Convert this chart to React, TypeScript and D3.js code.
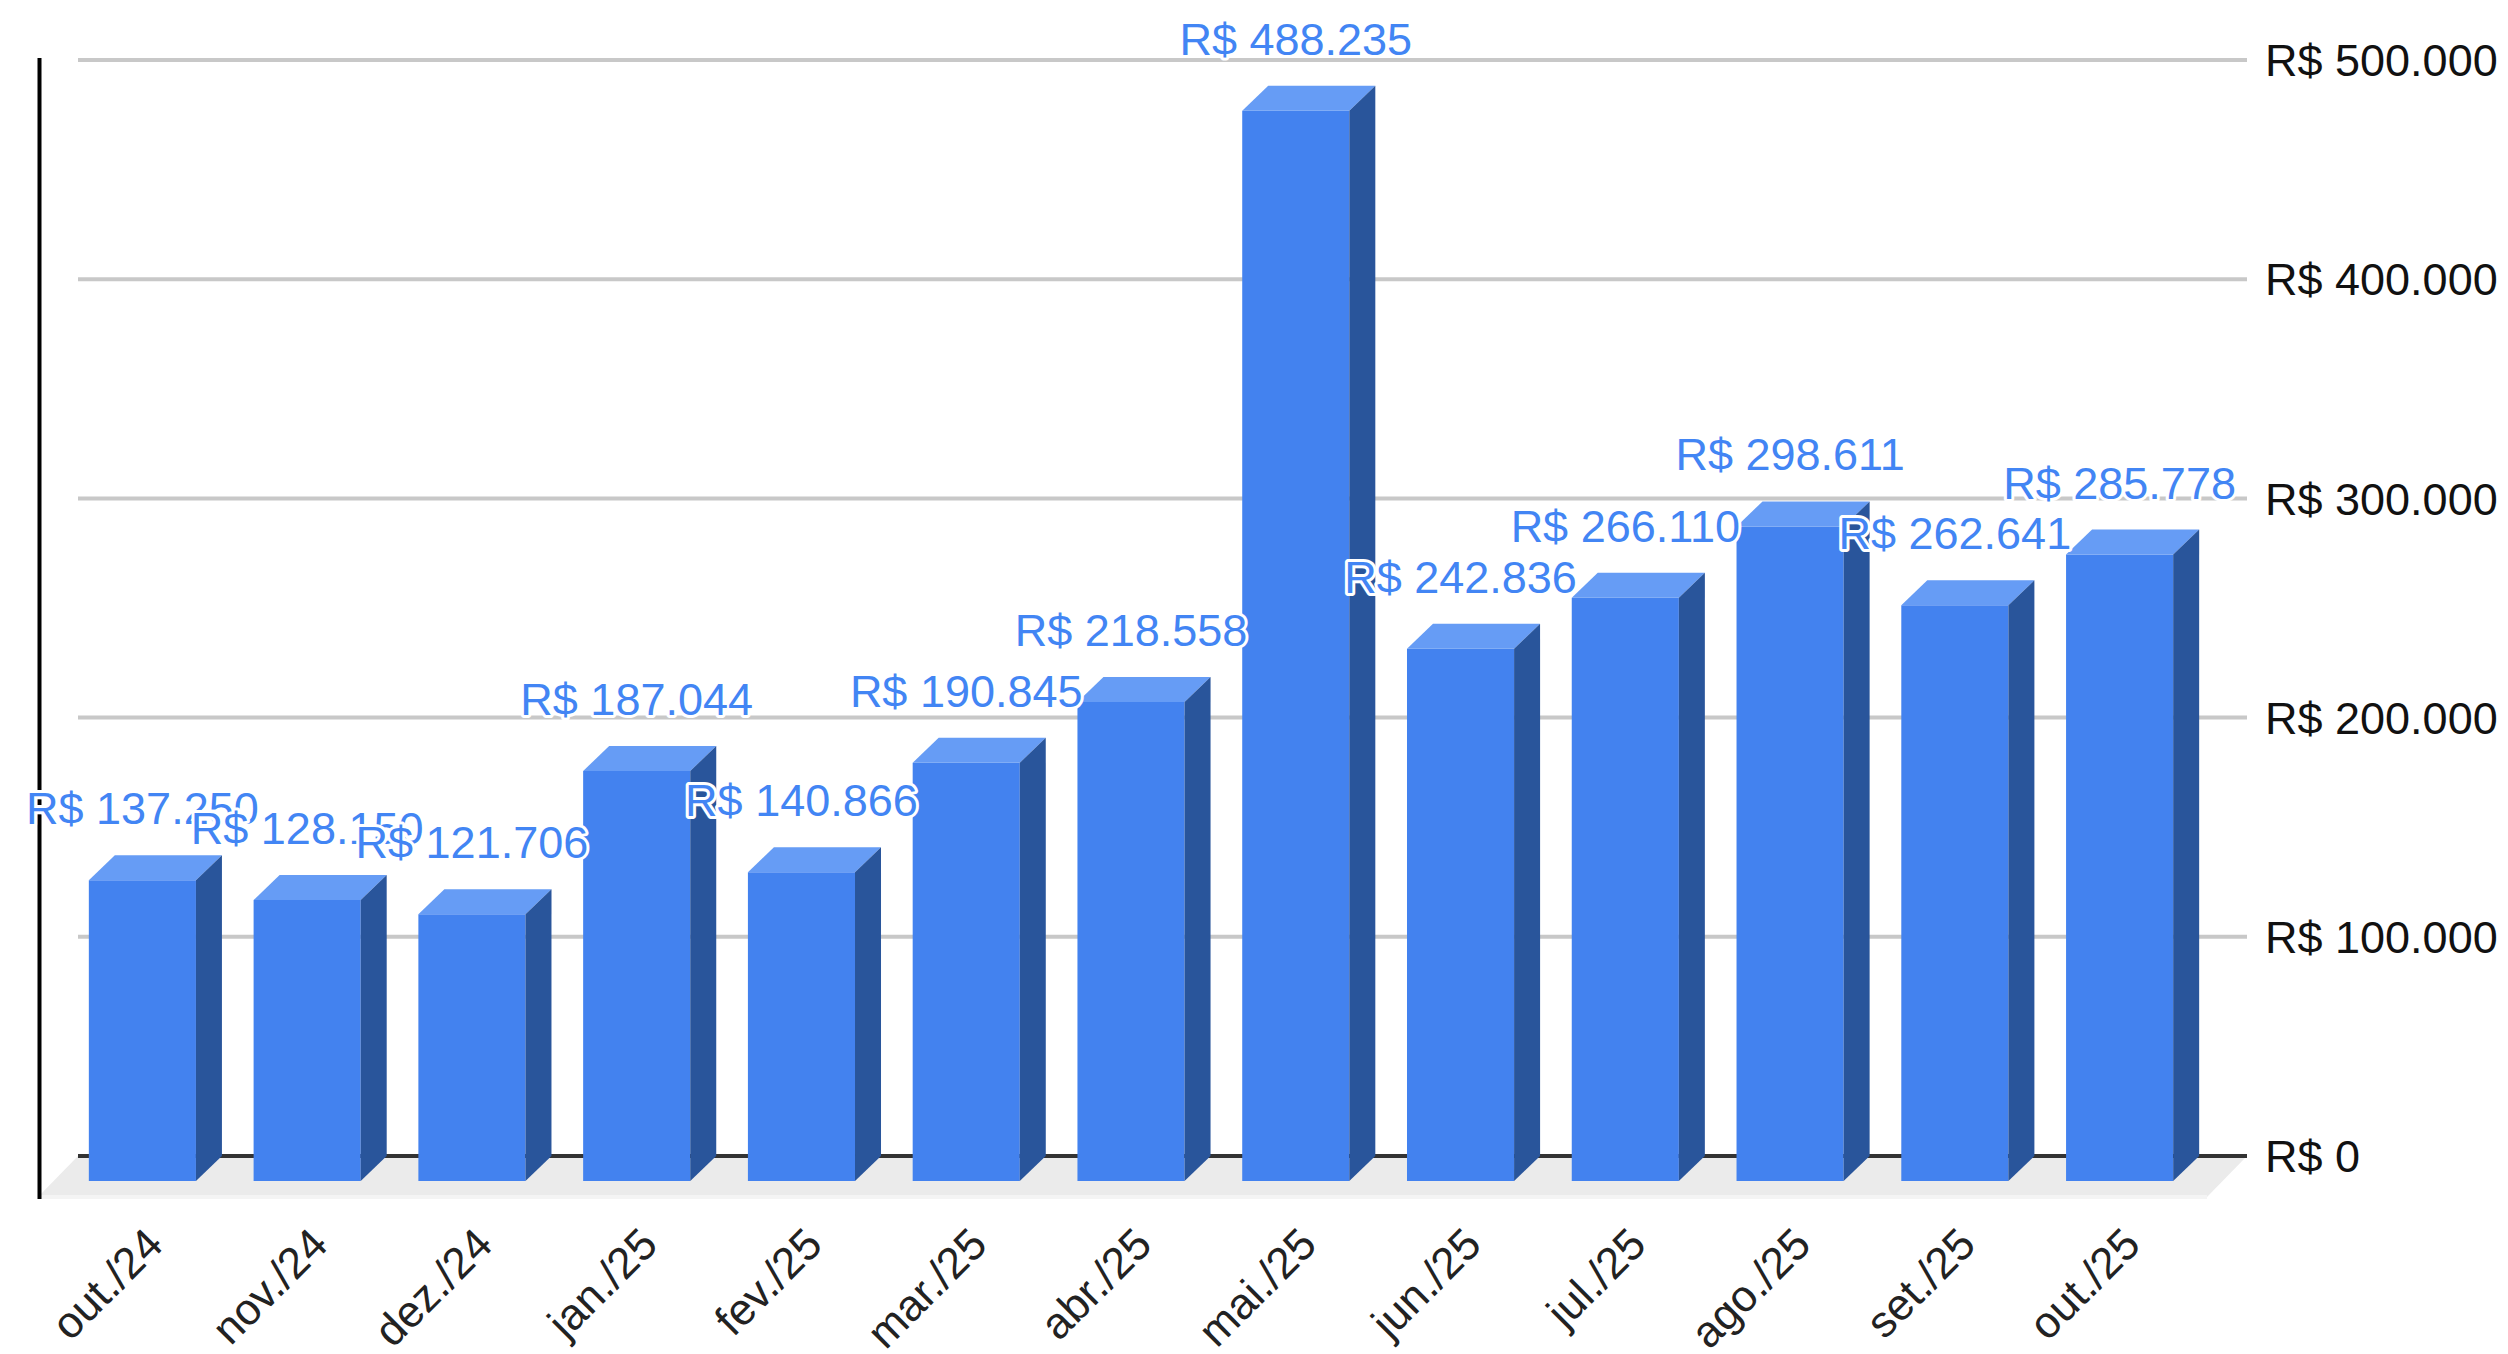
import * as d3 from "d3";
import { useEffect, useRef } from "react";

// dados do gráfico
const months = [
  "out./24", "nov./24", "dez./24", "jan./25", "fev./25", "mar./25", "abr./25",
  "mai./25", "jun./25", "jul./25", "ago./25", "set./25", "out./25",
];
const totals = [
  137250, 128150, 121706, 187044, 140866, 190845, 218558,
  488235, 242836, 266110, 298611, 262641, 285778,
];
const yTicks = [0, 100000, 200000, 300000, 400000, 500000];

const brl = d3.formatLocale({ decimal: ",", thousands: ".", grouping: [3], currency: ["R$ ", ""] });
const money = (v: number) => "R$ " + brl.format(",")(v);

const App = () => {
  const chartRef = useRef<SVGSVGElement | null>(null);

  // tamanhos
  const width = 2508;
  const height = 1354;
  const plotLeft = 78;
  const plotRight = 2247;
  const plotTop = 60;
  const plotBottom = 1156;
  const floorDepth = 40; // profundidade do "chão"
  const dx = 26; // profundidade das barras
  const dy = 25;
  const font = "'Liberation Sans', Arial, sans-serif";

  useEffect(() => {
    const svg = d3.select(chartRef.current);
    svg.selectAll("*").remove();

    const scaleY = d3.scaleLinear().domain([0, 500000]).range([plotBottom, plotTop]);
    // escala do plano frontal das barras
    const scaleX = d3
      .scaleBand()
      .domain(months)
      .range([plotLeft - 18, plotRight - 45])
      .paddingInner(0.35)
      .paddingOuter(0.175);
    const bw = scaleX.bandwidth();
    const y0 = scaleY(0);

    // chão
    svg.append("polygon")
      .attr("points", [
        [plotLeft, y0], [plotRight, y0],
        [plotRight - floorDepth, y0 + floorDepth + 1], [plotLeft - floorDepth, y0 + floorDepth + 1],
      ].map(p => p.join(",")).join(" "))
      .style("fill", "#ebebeb");
    svg.append("rect")
      .attr("x", plotLeft - floorDepth)
      .attr("y", y0 + floorDepth - 1)
      .attr("width", plotRight - plotLeft)
      .attr("height", 4)
      .style("fill", "#f4f4f4");

    // linhas de grade
    svg.append("g")
      .selectAll("line")
      .data(yTicks)
      .enter()
      .append("line")
      .attr("x1", plotLeft)
      .attr("x2", plotRight)
      .attr("y1", d => scaleY(d))
      .attr("y2", d => scaleY(d))
      .style("stroke", d => (d === 0 ? "#333" : "#c8c8c8"))
      .style("stroke-width", 4);

    // eixo vertical esquerdo
    svg.append("line")
      .attr("x1", plotLeft - floorDepth + 1.5)
      .attr("x2", plotLeft - floorDepth + 1.5)
      .attr("y1", plotTop - 2)
      .attr("y2", y0 + floorDepth + 3)
      .style("stroke", "#000")
      .style("stroke-width", 4);

    // rótulos do eixo Y (à direita)
    svg.append("g")
      .selectAll("text")
      .data(yTicks)
      .enter()
      .append("text")
      .attr("x", plotRight + 18)
      .attr("y", d => scaleY(d))
      .attr("dy", "0.36em")
      .style("font-family", font)
      .style("font-size", "45px")
      .style("fill", "#111")
      .text(d => money(d));

    // barras 3D
    const bars = svg.append("g")
      .selectAll("g")
      .data(months.map((m, i) => ({ m, v: totals[i] })))
      .enter()
      .append("g");

    bars.append("polygon") // frente
      .attr("points", d => {
        const x0 = scaleX(d.m)!;
        const yt = scaleY(d.v);
        return `${x0},${yt + dy} ${x0 + bw},${yt + dy} ${x0 + bw},${y0 + dy} ${x0},${y0 + dy}`;
      })
      .style("fill", "#4382ef");
    bars.append("polygon") // topo
      .attr("points", d => {
        const x0 = scaleX(d.m)!;
        const yt = scaleY(d.v);
        return `${x0},${yt + dy} ${x0 + bw},${yt + dy} ${x0 + bw + dx},${yt} ${x0 + dx},${yt}`;
      })
      .style("fill", "#669cf5");
    bars.append("polygon") // lateral
      .attr("points", d => {
        const x1 = scaleX(d.m)! + bw;
        const yt = scaleY(d.v);
        return `${x1},${yt + dy} ${x1 + dx},${yt} ${x1 + dx},${y0} ${x1},${y0 + dy}`;
      })
      .style("fill", "#29559b");

    // rótulos de valores
    svg.append("g")
      .selectAll("text")
      .data(months.map((m, i) => ({ m, v: totals[i] })))
      .enter()
      .append("text")
      .attr("x", d => scaleX(d.m)! + bw / 2)
      .attr("y", d => scaleY(d.v) - 31)
      .attr("text-anchor", "middle")
      .style("font-family", font)
      .style("font-size", "45px")
      .style("fill", "#4285f4")
      .style("stroke", "#fff")
      .style("stroke-width", 6)
      .style("stroke-linejoin", "round")
      .style("paint-order", "stroke")
      .text(d => money(d.v));

    // rótulos do eixo X (rotacionados)
    svg.append("g")
      .selectAll("text")
      .data(months)
      .enter()
      .append("text")
      .attr("text-anchor", "end")
      .attr("transform", d => `translate(${scaleX(d)! + bw / 2 + 23},${y0 + 91}) rotate(-45)`)
      .style("font-family", font)
      .style("font-size", "44px")
      .style("fill", "#222")
      .text(d => d);
  }, []);

  return (
    <div style={{ position: "absolute", left: 0, top: 0 }}>
      <svg ref={chartRef} width={width} height={height} style={{ display: "block", background: "#fff" }}></svg>
    </div>
  );
};

export default App;
